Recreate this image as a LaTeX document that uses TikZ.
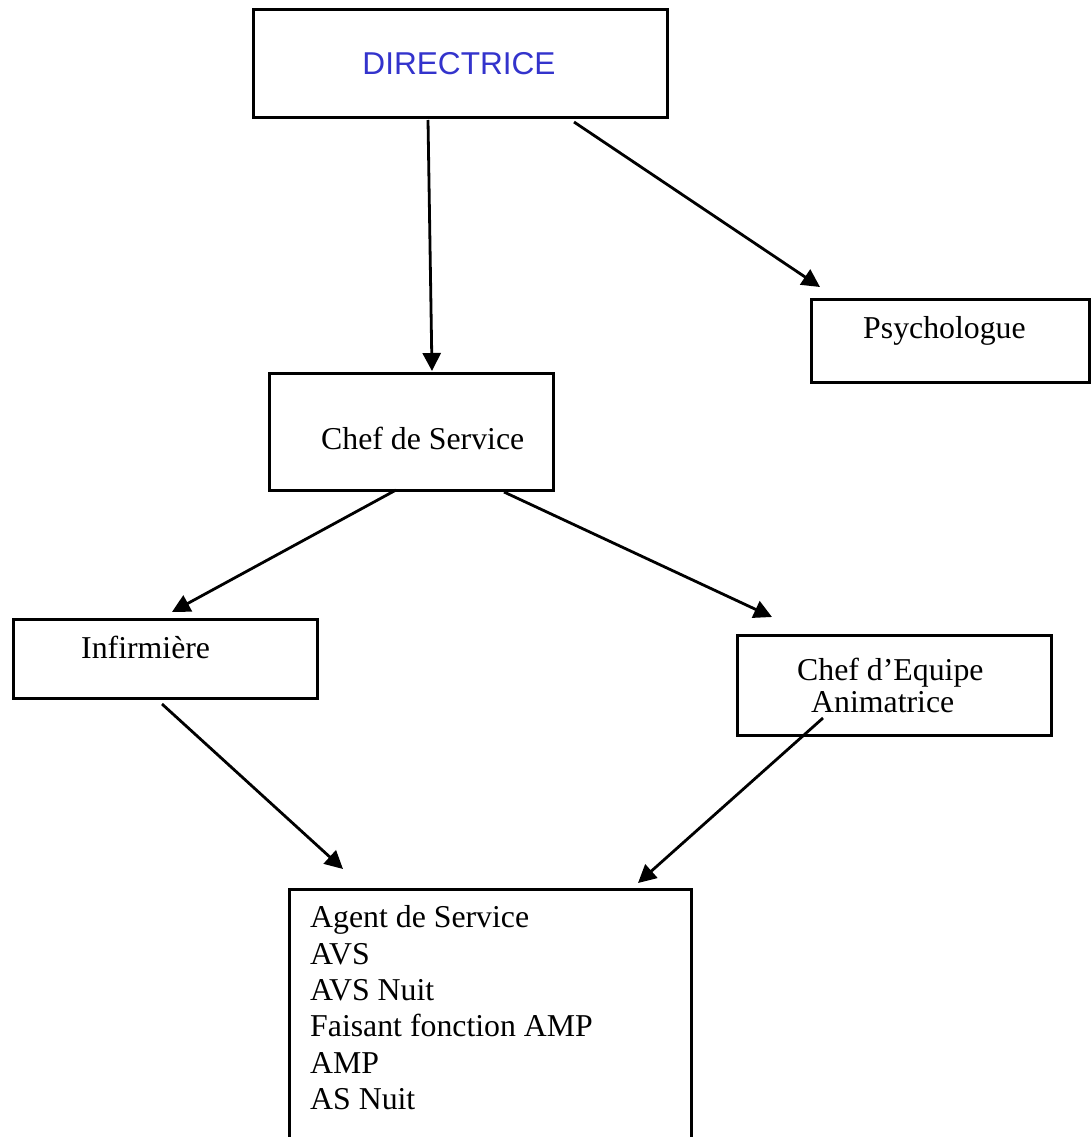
\documentclass[tikz,border=0pt]{standalone}
\usepackage{fontspec}
\setmainfont{Liberation Serif}
\newfontfamily\arialfont{Liberation Sans}
\usetikzlibrary{arrows.meta}
\definecolor{dirblue}{RGB}{51,51,204}
\tikzset{
  box/.style={draw=black, line width=2.8pt, inner sep=0pt, anchor=north west},
  txt/.style={inner sep=0pt, anchor=base west, font=\fontsize{31.8pt}{36.4pt}\selectfont},
  arr/.style={line width=2.8pt, -{Triangle[length=18pt,width=18pt]}}
}
\begin{document}
\begin{tikzpicture}[x=1pt,y=-1pt]
\useasboundingbox (0,0) rectangle (1090,1137);
% boxes
\node[box, minimum width=414pt, minimum height=108pt] (dir) at (252,8) {};
\node[box, minimum width=278pt, minimum height=83pt] (psy) at (810,298) {};
\node[box, minimum width=284pt, minimum height=117pt] (chef) at (268,372) {};
\node[box, minimum width=304pt, minimum height=79pt] (inf) at (12,618) {};
\node[box, minimum width=314pt, minimum height=100pt] (equipe) at (736,634) {};
\node[box, minimum width=402pt, minimum height=280pt] (agents) at (288,888) {};
% texts
\node[inner sep=0pt, anchor=base, text=dirblue, font=\arialfont\fontsize{31.6pt}{36pt}\selectfont] (dirt) at (459,75) {DIRECTRICE};
\node[txt] (psyt) at (863,338) {Psychologue};
\node[txt] (cheft) at (321,449) {Chef de Service};
\node[txt] (inft) at (81,658) {Infirmière};
\node[txt] (equipet) at (797,680) {Chef d’Equipe};
\node[txt] (animt) at (811,712) {Animatrice};
\node[txt, align=left, anchor=north west] (agentst) at (310,905.5) {Agent de Service\\AVS\\AVS Nuit\\Faisant fonction AMP\\AMP\\AS Nuit};
% connector ends
\coordinate (a1s) at (428,120); \coordinate (a1e) at (432,371);
\coordinate (a2s) at (574,122); \coordinate (a2e) at (820,287);
\coordinate (a3s) at (396,490); \coordinate (a3e) at (172,612);
\coordinate (a4s) at (504,492); \coordinate (a4e) at (772,617);
\coordinate (a5s) at (162,704); \coordinate (a5e) at (343,869);
\coordinate (a6s) at (823,718); \coordinate (a6e) at (638,883);
% connectors
\draw[arr] (a1s) -- (a1e);
\draw[arr] (a2s) -- (a2e);
\draw[arr] (a3s) -- (a3e);
\draw[arr] (a4s) -- (a4e);
\draw[arr] (a5s) -- (a5e);
\draw[arr] (a6s) -- (a6e);
\end{tikzpicture}
\end{document}
